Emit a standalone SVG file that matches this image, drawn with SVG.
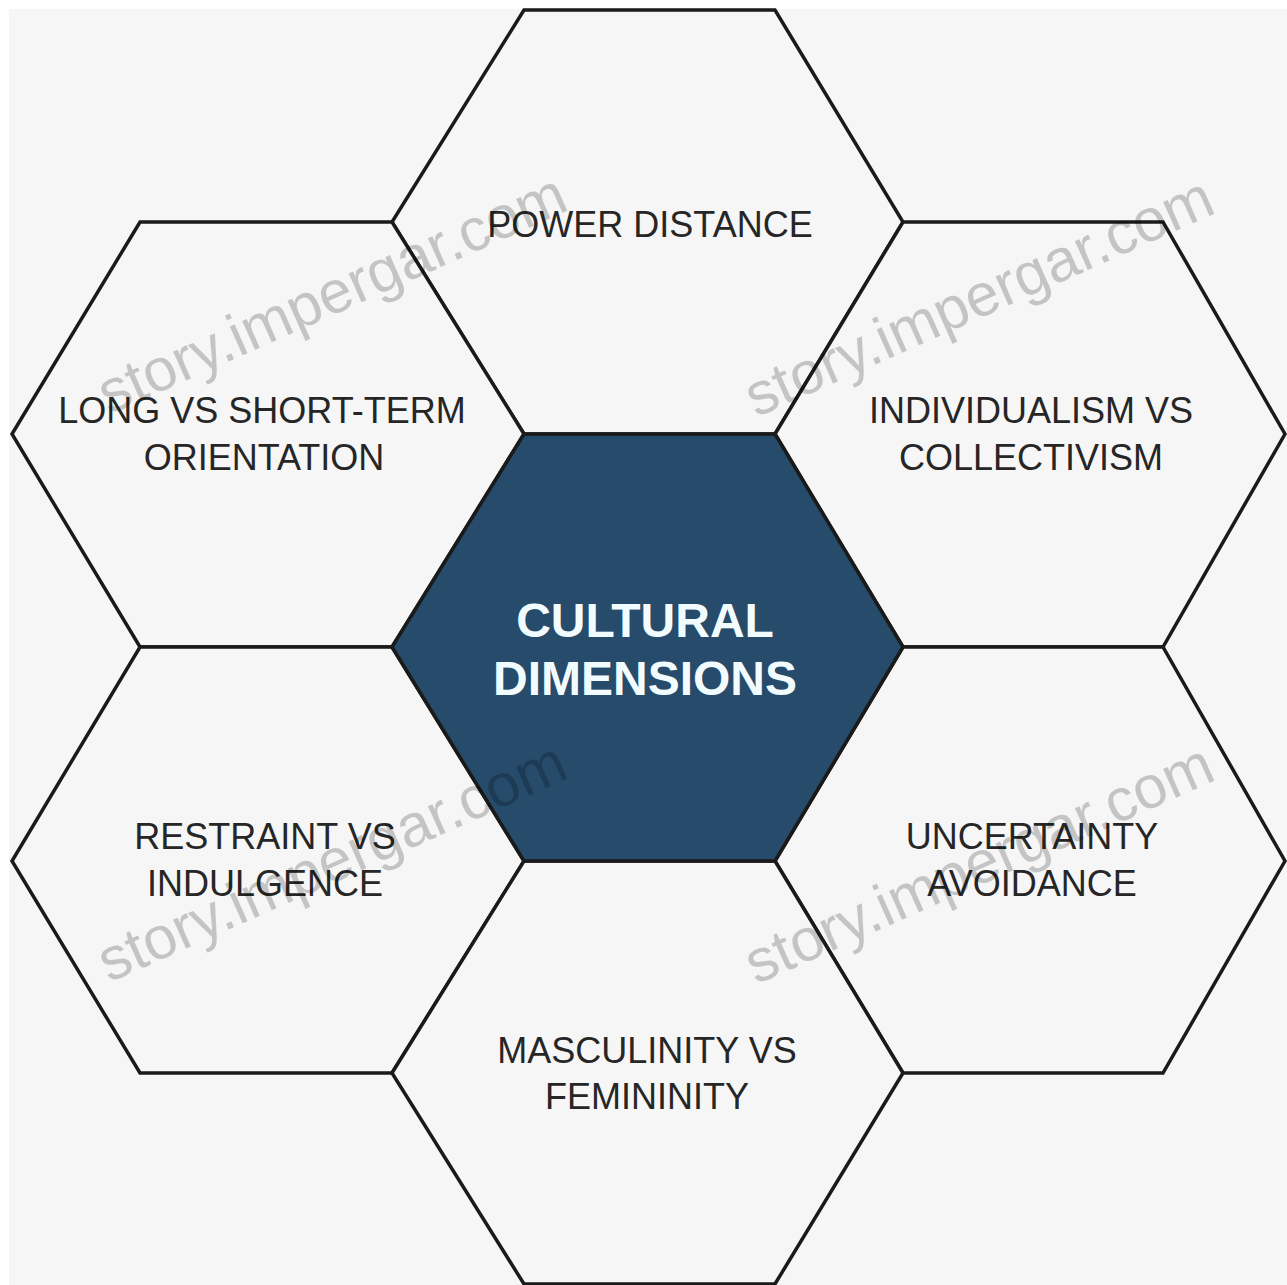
<svg xmlns="http://www.w3.org/2000/svg" width="1287" height="1285" viewBox="0 0 1287 1285">
  <style>
    .hex { fill: #f6f6f6; stroke: #1a1a1a; stroke-width: 3.5; stroke-linejoin: miter; }
    .core { fill: #264b6b; stroke: #1a1a1a; stroke-width: 3.5; }
    .lbl { font-family: "Liberation Sans", Arial, sans-serif; font-size: 36px; fill: #262626; text-anchor: middle; }
    .title { font-family: "Liberation Sans", Arial, sans-serif; font-size: 48px; font-weight: bold; fill: #f2fcff; text-anchor: middle; }
    .wm { font-family: "Liberation Sans", Arial, sans-serif; font-size: 60px; fill: #000; opacity: 0.2; text-anchor: middle; }
  </style>
  <rect x="0" y="0" width="1287" height="1285" fill="#ffffff"/>
  <rect x="9" y="9" width="1278" height="1276" fill="#f6f6f6"/>

  <g id="node-power-distance">
    <polygon class="hex" points="524,10 775,10 903,222 775,434 524,434 392,222"/>
    <text class="lbl" x="650" y="237">POWER DISTANCE</text>
  </g>
  <g id="node-long-short-term">
    <polygon class="hex" points="140,222 392,222 524,434 392,647 140,647 12,434"/>
    <text class="lbl" x="262" y="423">LONG VS SHORT-TERM</text>
    <text class="lbl" x="264" y="470">ORIENTATION</text>
  </g>
  <g id="node-individualism">
    <polygon class="hex" points="903,222 1163,222 1285,434 1163,647 903,647 775,434"/>
    <text class="lbl" x="1031" y="423">INDIVIDUALISM VS</text>
    <text class="lbl" x="1031" y="470">COLLECTIVISM</text>
  </g>
  <g id="node-restraint">
    <polygon class="hex" points="140,647 392,647 524,861 392,1073 140,1073 12,861"/>
    <text class="lbl" x="265" y="849">RESTRAINT VS</text>
    <text class="lbl" x="265" y="896">INDULGENCE</text>
  </g>
  <g id="node-uncertainty">
    <polygon class="hex" points="903,647 1163,647 1285,861 1163,1073 903,1073 775,861"/>
    <text class="lbl" x="1032" y="849">UNCERTAINTY</text>
    <text class="lbl" x="1032" y="896">AVOIDANCE</text>
  </g>
  <g id="node-masculinity">
    <polygon class="hex" points="524,861 775,861 903,1073 775,1284 524,1284 392,1073"/>
    <text class="lbl" x="647" y="1063">MASCULINITY VS</text>
    <text class="lbl" x="647" y="1109">FEMININITY</text>
  </g>
  <g id="node-cultural-dimensions">
    <polygon class="core" points="524,434 775,434 903,647 775,861 524,861 392,647"/>
    <text class="title" x="645" y="637">CULTURAL</text>
    <text class="title" x="645" y="695">DIMENSIONS</text>
  </g>

  <g id="watermarks">
    <text class="wm" transform="translate(340,312) rotate(-24)">story.impergar.com</text>
    <text class="wm" transform="translate(987,315) rotate(-24)">story.impergar.com</text>
    <text class="wm" transform="translate(340,880) rotate(-24)">story.impergar.com</text>
    <text class="wm" transform="translate(987,882) rotate(-24)">story.impergar.com</text>
  </g>
</svg>
